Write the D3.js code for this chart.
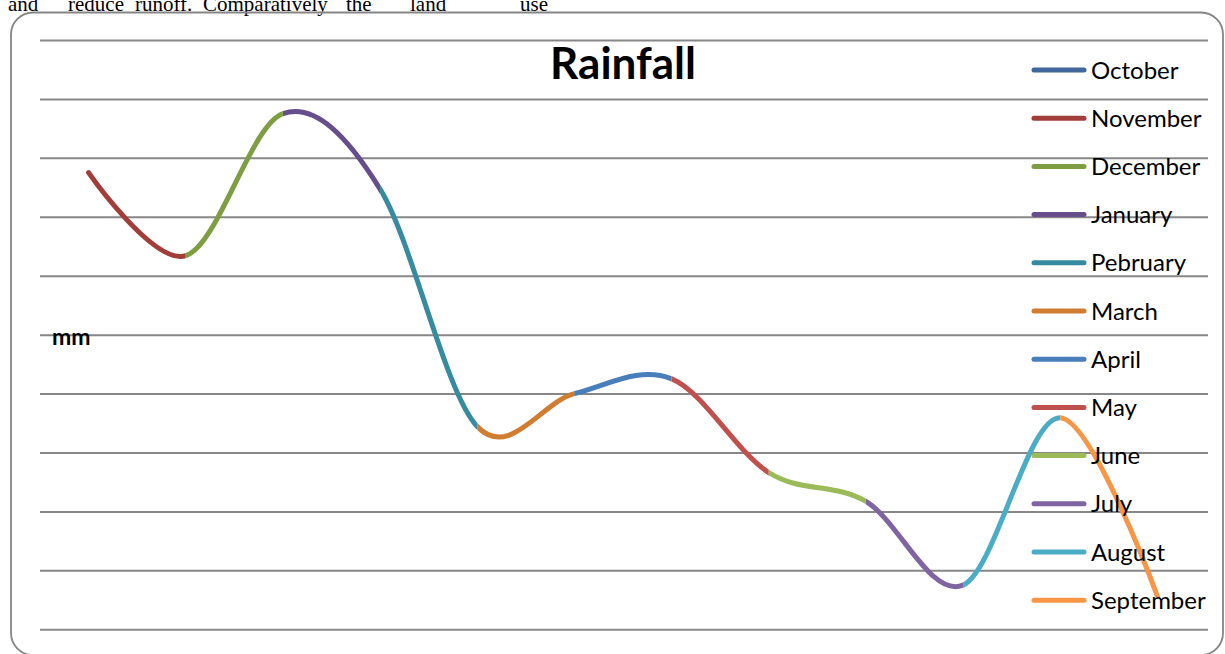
<!DOCTYPE html>
<html>
<head>
<meta charset="utf-8">
<script src="https://cdn.jsdelivr.net/npm/d3@7"></script>
<style>
  body { margin: 0; background: #fff; }
  svg { display: block; }
</style>
</head>
<body>
<div id="canvas"></div>
<script>
// DATA
const months = ["October", "November", "December", "January", "Pebruary", "March",
  "April", "May", "June", "July", "August", "September"];
const rainfall = [77.5, 63.4, 87.5, 74.7, 34.4, 40.0, 42.5, 26.6, 21.7, 7.5, 35.9, 5.6];
const monthColors = ["#41679c", "#a33d39", "#7f9d43", "#664d8c", "#378ba0", "#d07c31",
  "#4a7ebb", "#c0504d", "#9bbb59", "#8064a2", "#4bacc6", "#f79646"];
const gridTicks = d3.range(0, 101, 10);
const introWords = ["and", "reduce", "runoff.", "Comparatively", "the", "land", "use"];
const introX = [8, 68, 135, 203, 346, 410, 520];

// DIMENSIONS
const width = 1225;
const height = 654;
const plot = { left: 40, right: 1206, top: 40, bottom: 629.3 };

// CANVAS
const svg = d3.select("#canvas")
  .append("svg")
  .attr("width", width)
  .attr("height", height);

// body text above the chart (cut off by the crop)
svg.append("g")
  .selectAll("text")
  .data(introWords)
  .join("text")
  .attr("x", (d, i) => introX[i])
  .attr("y", 11)
  .style("font-family", "'Liberation Serif', 'Times New Roman', serif")
  .style("font-size", "21px")
  .text(d => d);

// chart frame
svg.append("rect")
  .attr("x", 11)
  .attr("y", 12.5)
  .attr("width", 1212)
  .attr("height", 642.5)
  .attr("rx", 22)
  .attr("fill", "none")
  .attr("stroke", "#858585")
  .attr("stroke-width", 1.8);

// SCALES
const x = d3.scalePoint().domain(months).range([plot.left, plot.right]).padding(0.5);
const y = d3.scaleLinear().domain([0, 100]).range([plot.bottom, plot.top]);

// GRIDLINES
const grid = svg.append("g")
  .attr("transform", `translate(${plot.left},0)`)
  .call(d3.axisLeft(y).tickValues(gridTicks).tickSize(-1168).tickFormat(""));
grid.select(".domain").remove();
grid.selectAll("line").attr("stroke", "#878787").attr("stroke-width", 2);

// LINE (one smoothed series, coloured by point)
const line = d3.line()
  .x((d, i) => x(months[i]))
  .y(d => y(d))
  .curve(d3.curveCardinal.tension(0));

const pathD = line(rainfall);
const defs = svg.append("defs");

months.forEach((m, i) => {
  if (i === 0) return;
  const x0 = i === 1 ? 0 : x(months[i - 1]);
  const x1 = i === months.length - 1 ? width : x(m);
  defs.append("clipPath")
    .attr("id", `seg${i}`)
    .append("rect")
    .attr("x", x0)
    .attr("y", 0)
    .attr("width", x1 - x0)
    .attr("height", height);
  svg.append("path")
    .attr("d", pathD)
    .attr("clip-path", `url(#seg${i})`)
    .attr("fill", "none")
    .attr("stroke", monthColors[i])
    .attr("stroke-width", 5)
    .attr("stroke-linecap", "round")
    .attr("stroke-linejoin", "round");
});

// TITLE
svg.append("text")
  .attr("x", 623)
  .attr("y", 79)
  .attr("text-anchor", "middle")
  .style("font-family", "Lato, 'Open Sans', sans-serif")
  .style("font-weight", "bold")
  .style("font-size", "44px")
  .text("Rainfall");

// AXIS LABEL
svg.append("text")
  .attr("x", 52)
  .attr("y", 345)
  .style("font-family", "Lato, 'Open Sans', sans-serif")
  .style("font-weight", "bold")
  .style("font-size", "23px")
  .text("mm");

// LEGEND
const legend = svg.append("g").attr("class", "legend");
const legendY = i => 70 + i * 48.2;

legend.selectAll("line")
  .data(months)
  .join("line")
  .attr("x1", 1034)
  .attr("x2", 1084)
  .attr("y1", (d, i) => legendY(i))
  .attr("y2", (d, i) => legendY(i))
  .attr("stroke", (d, i) => monthColors[i])
  .attr("stroke-width", 5)
  .attr("stroke-linecap", "round");

legend.selectAll("text")
  .data(months)
  .join("text")
  .attr("x", 1091)
  .attr("y", (d, i) => legendY(i) + 8.5)
  .style("font-family", "Lato, 'Open Sans', sans-serif")
  .style("font-size", "24px")
  .attr("fill", "#000")
  .text(d => d);
</script>
</body>
</html>
